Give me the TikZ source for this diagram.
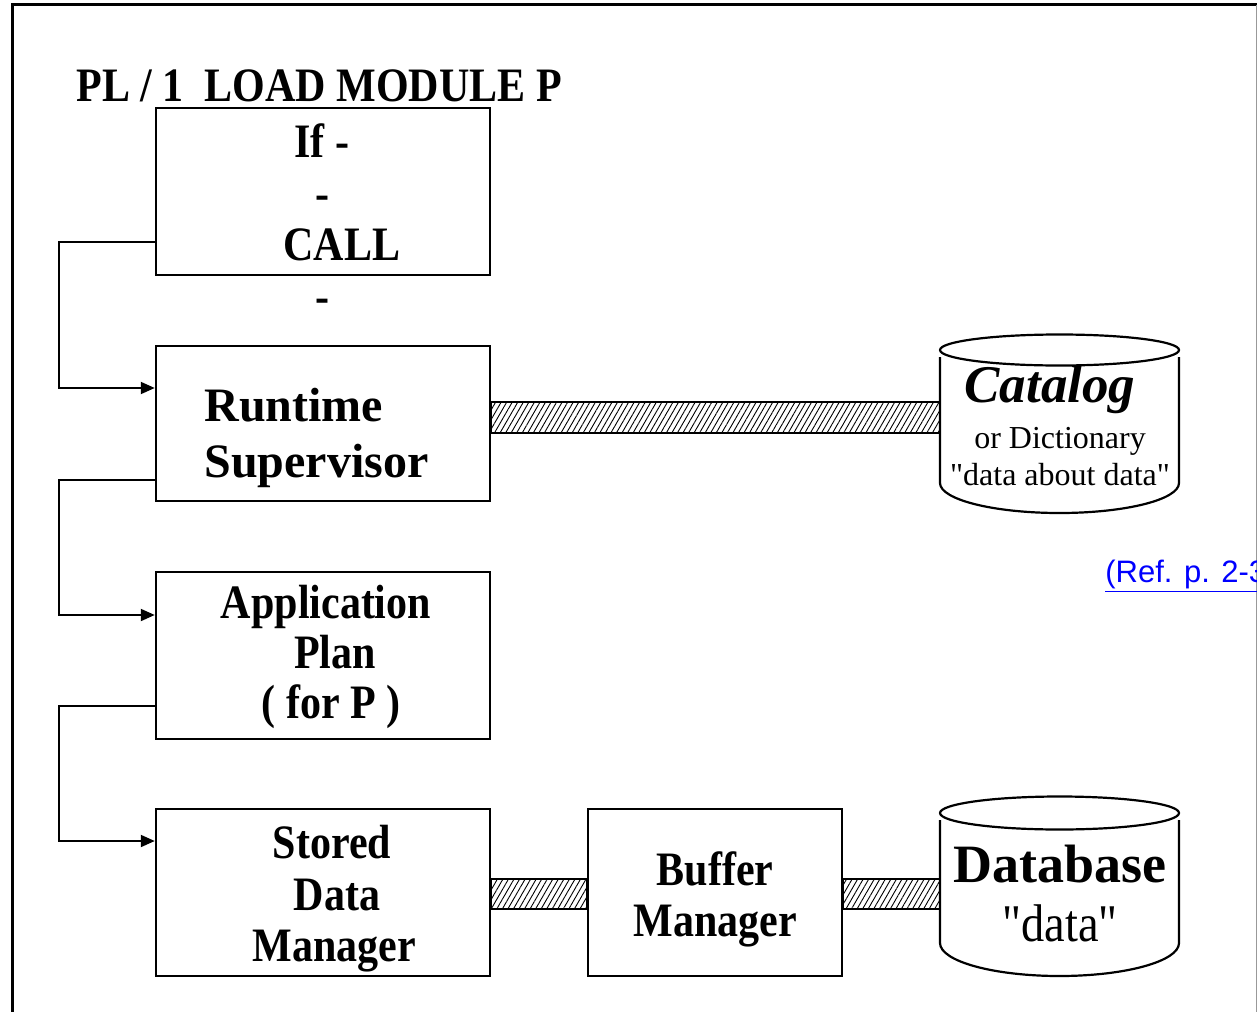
\documentclass[tikz,border=0pt]{standalone}
\usepackage{fontspec}
\setmainfont{Liberation Serif}
\newfontfamily\cserif[FakeStretch=0.875]{Liberation Serif}
\newfontfamily\pserif{Liberation Serif}
\newfontfamily\refsans{Liberation Sans}
\usetikzlibrary{arrows.meta,patterns.meta,calc}
\begin{document}
\begin{tikzpicture}[x=0.5pt,y=-0.5pt,
  box/.style={draw,line width=1.25pt,inner sep=0pt,minimum width=167pt,minimum height=83.5pt},
  lbl/.style={inner sep=0pt,anchor=base,font=\cserif\bfseries\fontsize{24}{28}\selectfont},
  conn/.style={line width=1pt,-{Triangle[length=7pt,width=6pt]}},
  bar/.style={draw,line width=1.1pt,pattern={Lines[angle=60,distance=2.4pt,line width=0.45pt]}},
  cyl/.style={line width=1.1pt},
  holder/.style={inner sep=0pt}]
\useasboundingbox (0,0) rectangle (1257,1011);
% frame
\draw[line width=1.5pt] (12,1015) -- (12,5) -- (1262,5);
\draw[line width=0.6pt,black!40] (1256.5,5) -- (1256.5,1015);
% title
\node[lbl,anchor=base west] (title) at (76,102) {PL / 1\ \ LOAD MODULE P};
% boxes
\node[box] (b1) at (323,191.5) {};
\node[box,minimum height=77.5pt] (b2) at (323,423.5) {};
\node[box] (b3) at (323,655.5) {};
\node[box] (b4) at (323,892.5) {};
\node[box,minimum width=127pt] (b5) at (715,892.5) {};
% box 1 text
\node[lbl] (t1a) at (322,157) {If -};
\node[lbl] (t1b) at (322,209) {-};
\node[lbl] (t1c) at (342,260) {CALL};
\node[lbl] (t1d) at (322,312) {-};
% box 2 text
\node[lbl,anchor=base west,font=\bfseries\fontsize{24}{28}\selectfont] (t2a) at (204,421) {Runtime};
\node[lbl,anchor=base west,font=\bfseries\fontsize{24}{28}\selectfont] (t2b) at (204,477) {Supervisor};
% box 3 text
\node[lbl] (t3a) at (326,618) {Application};
\node[lbl] (t3b) at (335,668) {Plan};
\node[lbl] (t3c) at (331,718) {( for P )};
% box 4 text
\node[lbl] (t4a) at (332,858) {Stored};
\node[lbl] (t4b) at (337,910) {Data};
\node[lbl] (t4c) at (334,961) {Manager};
% box 5 text
\node[lbl] (t5a) at (715,885) {Buffer};
\node[lbl] (t5b) at (715,936) {Manager};
% catalog cylinder
\node[holder,minimum width=119.5pt,minimum height=89pt] (cat) at (1059.5,424) {};
\draw[cyl] (1059.5,350) ellipse [x radius=59.75pt,y radius=7.75pt];
\draw[cyl] (940,357) -- (940,483) arc[start angle=180,end angle=360,x radius=59.75pt,y radius=15pt] -- (1179,357);
\node[inner sep=0pt,anchor=base,font=\bfseries\itshape\fontsize{26.5}{30}\selectfont] (c1) at (1050,402) {Catalog};
\node[inner sep=0pt,anchor=base,font=\pserif\fontsize{16}{19}\selectfont] (c2) at (1060,448) {or Dictionary};
\node[inner sep=0pt,anchor=base,font=\pserif\fontsize{16}{19}\selectfont] (c3) at (1060,485) {"data about data"};
% database cylinder
\node[holder,minimum width=119.5pt,minimum height=89.5pt] (db) at (1059.5,886.5) {};
\draw[cyl] (1059.5,813) ellipse [x radius=59.75pt,y radius=8.25pt];
\draw[cyl] (940,820) -- (940,943) arc[start angle=180,end angle=360,x radius=59.75pt,y radius=16.5pt] -- (1179,820);
\node[inner sep=0pt,anchor=base,font=\bfseries\fontsize{27}{30}\selectfont] (d1) at (1060,882) {Database};
\node[inner sep=0pt,anchor=base,font=\cserif\fontsize{26.5}{30}\selectfont] (d2) at (1060,941) {"data"};
% hatched links
\draw[bar] (b2.east |- 0,402) rectangle (cat.west |- 0,433);
\draw[bar] (b4.east |- 0,879) rectangle (b5.west |- 0,909);
\draw[bar] (b5.east |- 0,879) rectangle (db.west |- 0,909);
% control-flow connectors
\draw[conn] ([yshift=-25.25pt]b1.west) -- ++(-96,0) |- ([yshift=17.75pt]b2.west);
\draw[conn] ([yshift=-28.25pt]b2.west) -- ++(-96,0) |- ([yshift=20.25pt]b3.west);
\draw[conn] ([yshift=-25.25pt]b3.west) -- ++(-96,0) |- ([yshift=25.75pt]b4.west);
% reference link
\begin{scope}
\clip (0,0) rectangle (1257,1011);
\node[inner sep=0pt,anchor=base west,text=blue,font=\refsans\fontsize{15.5}{19}\selectfont] (ref) at (1105,582) {\underline{(Ref. p. 2-3}};
\end{scope}
\end{tikzpicture}
\end{document}
